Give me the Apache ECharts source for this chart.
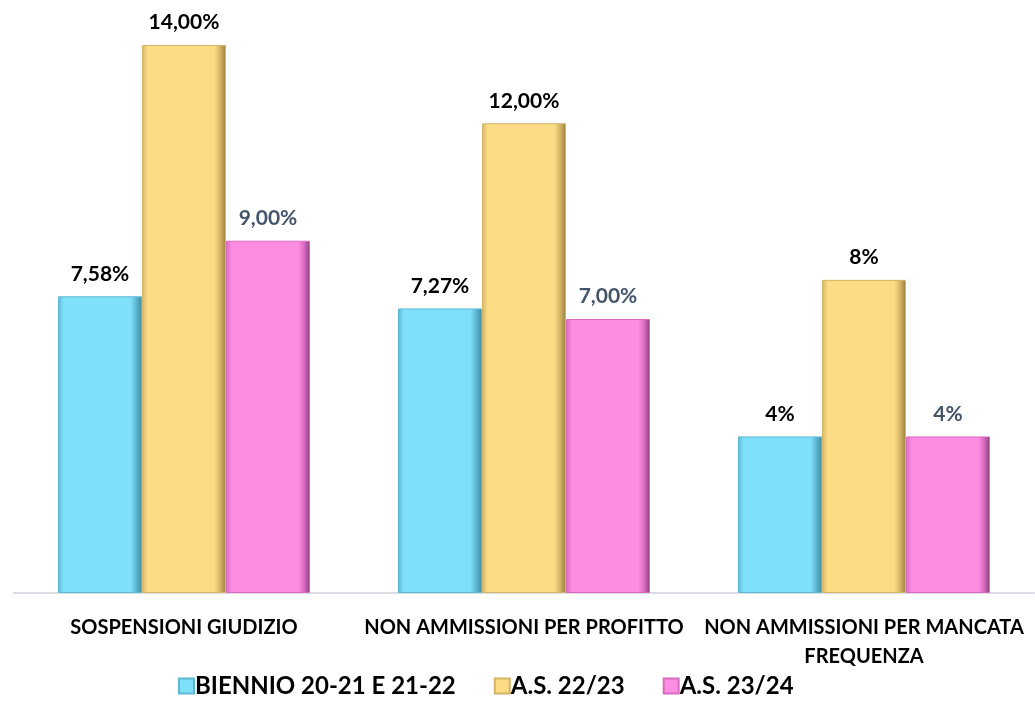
<!DOCTYPE html>
<html>
<head>
<meta charset="utf-8">
<script src="https://cdn.jsdelivr.net/npm/echarts@6/dist/echarts.min.js"></script>
<style>
html,body{margin:0;padding:0;background:#fff;}
#chart{width:1035px;height:708px;}
</style>
</head>
<body>
<div id="chart"></div>
<script>
const categories = ['SOSPENSIONI GIUDIZIO', 'NON AMMISSIONI PER PROFITTO', 'NON AMMISSIONI PER MANCATA FREQUENZA'];
const seriesNames = ['BIENNIO 20-21 E 21-22', 'A.S. 22/23', 'A.S. 23/24'];
const biennio = [7.58, 7.27, 4];
const as2223 = [14, 12, 8];
const as2324 = [9, 7, 4];
const labelTexts = [
  ['7,58%', '7,27%', '4%'],
  ['14,00%', '12,00%', '8%'],
  ['9,00%', '7,00%', '4%']
];

const baseColors = [
  {light:'#a6ecfd', base:'#7fe0fa', dark:'#3d8aa3', edge:'#5fb8d2'},
  {light:'#fde9b0', base:'#fddc85', dark:'#9a7f3c', edge:'#d4b466'},
  {light:'#ffb6ee', base:'#fd8de3', dark:'#8c3f7b', edge:'#d86bc0'}
];
function grad(c){
  return new echarts.graphic.LinearGradient(0,0,1,0,[
    {offset:0, color:c.edge},
    {offset:0.07, color:c.base},
    {offset:0.86, color:c.base},
    {offset:0.93, color:c.edge},
    {offset:1, color:c.dark}
  ]);
}
const labelColors = ['#000000','#000000','#44546a'];
const allData = [biennio, as2223, as2324];

const chart = echarts.init(document.getElementById('chart'));
chart.setOption({
  animation:false,
  textStyle:{fontFamily:'Lato'},
  grid:{left:14, right:1, top:45, bottom:115, containLabel:false},
  legend:{
    bottom:5, left:173,
    itemWidth:15, itemHeight:15, itemGap:38,
    icon:'rect',
    textStyle:{fontFamily:'Lato', fontWeight:'bold', fontSize:24, color:'#000', padding:[0,0,0,-4]},
    data:seriesNames
  },
  xAxis:{
    type:'category', data:categories,
    axisLine:{show:true, lineStyle:{color:'#d9dde4', width:2}},
    axisTick:{show:false},
    axisLabel:{interval:0, margin:20, fontFamily:'Lato', fontWeight:'bold', fontSize:20, color:'#000',
      lineHeight:29, formatter:v=>v.replace(' FREQUENZA', '\nFREQUENZA')}
  },
  yAxis:{type:'value', min:0, max:14, show:false, splitLine:{show:false}},
  series: seriesNames.map((n,i)=>({
    name:n, type:'bar', barWidth:84, barGap:'0%',
    data: allData[i],
    itemStyle:{color:grad(baseColors[i]), borderColor:baseColors[i].edge, borderWidth:1},
    label:{show:true, position:'top', distance:12, fontFamily:'Lato', fontWeight:'bold', fontSize:21,
      color:labelColors[i], formatter:p=>labelTexts[i][p.dataIndex]}
  }))
});
</script>
</body>
</html>
